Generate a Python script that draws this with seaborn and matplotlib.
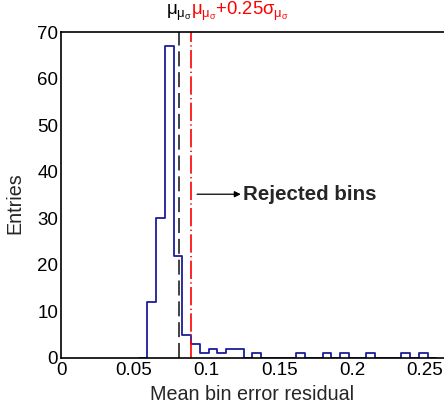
import numpy as np
import pandas as pd
import seaborn as sns
import matplotlib
matplotlib.use("Agg")
import matplotlib.pyplot as plt

# ---- data ----
bin_start = 0.0593
bin_width = 0.00602
counts = [12, 30, 67, 22, 5, 3, 1, 2, 1, 2, 2, 0, 1, 0, 0, 0,
          0, 1, 0, 0, 1, 0, 1, 0, 0, 1, 0, 0, 0, 1, 0, 1]
mean_value = 0.0813        # mu_{mu_sigma}
cut_value = 0.0891         # mu + 0.25 sigma
arrow_start = 0.0935
arrow_end = 0.1235
arrow_y = 35.2
xlabel = "Mean bin error residual"
ylabel = "Entries"
xticks = [0, 0.05, 0.1, 0.15, 0.2, 0.25]
xtick_labels = ["0", "0.05", "0.1", "0.15", "0.2", "0.25"]
yticks = [0, 10, 20, 30, 40, 50, 60, 70]

sns.set_theme(style="white")
plt.rcParams['font.family'] = ['Liberation Sans', 'DejaVu Sans']
plt.rcParams['mathtext.fontset'] = 'custom'
plt.rcParams['mathtext.rm'] = 'Liberation Sans'
plt.rcParams['mathtext.it'] = 'Liberation Sans'
plt.rcParams['mathtext.bf'] = 'Liberation Sans:bold'

# histogram bins, padded with one empty bin on each side so the
# step outline returns to zero like the ROOT drawing
edges = [bin_start + bin_width * i for i in range(-1, len(counts) + 2)]
weights = [0] + counts + [0]
centers = [(edges[i] + edges[i + 1]) / 2 for i in range(len(weights))]
df = pd.DataFrame({"x": centers, "w": weights})

fig = plt.figure(figsize=(4.44, 4.08), dpi=100)
ax = fig.add_axes([61 / 444, 50 / 408, 393 / 444, 325.7 / 408])

sns.histplot(data=df, x="x", weights="w", bins=edges, element="step",
             fill=False, color="#1c1c9c", linewidth=1.3, ax=ax)

ax.axvline(mean_value, color="#222222", linestyle=(0, (9, 3.5)), linewidth=1.2)
ax.axvline(cut_value, color="#ff0000", linestyle=(0, (11, 2, 0.8, 2)), linewidth=1.2)

ax.annotate("", xy=(arrow_end, arrow_y), xytext=(arrow_start, arrow_y),
            arrowprops=dict(arrowstyle="-|>", color="black", lw=0.9,
                            mutation_scale=9, shrinkA=0, shrinkB=0))
ax.text(arrow_end + 0.0015, arrow_y, "Rejected bins", fontsize=14.8,
        fontweight="bold", va="center", ha="left")

ax.text(mean_value - 0.0005, 1.052, r"$\mu_{\mu_{\sigma}}$", color="black",
        fontsize=13.5, ha="center", va="baseline",
        transform=ax.get_xaxis_transform())
ax.text(cut_value, 1.052, r"$\mu_{\mu_{\sigma}}$+0.25$\sigma_{\mu_{\sigma}}$",
        color="#ff0000", fontsize=13.3, ha="left", va="baseline",
        transform=ax.get_xaxis_transform())

ax.set_xlim(0, 0.27)
ax.set_ylim(0, 70)
ax.set_xticks(xticks)
ax.set_xticklabels(xtick_labels)
ax.set_yticks(yticks)
ax.set_xticks(np.arange(0, 0.27, 0.01), minor=True)
ax.set_yticks(np.arange(0, 71, 5), minor=True)
ax.tick_params(axis="both", which="both", direction="in", colors="black",
               labelsize=13.5, width=0.9)
ax.tick_params(axis="x", which="major", length=8.5, pad=3)
ax.tick_params(axis="x", which="minor", length=4.3)
ax.tick_params(axis="y", which="major", length=7.5, pad=2)
ax.tick_params(axis="y", which="minor", length=3.8)

for s in ax.spines.values():
    s.set_color("black")
    s.set_linewidth(1.2)

ax.set_xlabel(xlabel, fontsize=14.2)
ax.set_ylabel(ylabel, fontsize=14.2)
ax.xaxis.set_label_coords(0.486, -0.082)
ax.xaxis.label.set_va("top")
ax.yaxis.set_label_coords(-0.117, 0.476)
ax.yaxis.label.set_va("center")

fig.savefig("out.png", dpi=100)
